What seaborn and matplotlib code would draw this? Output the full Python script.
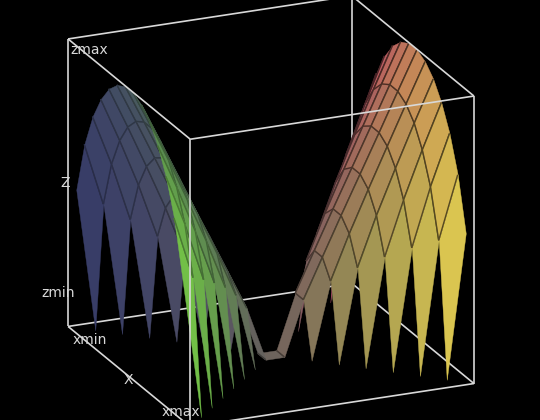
import numpy as np
import matplotlib
matplotlib.use('Agg')
import matplotlib.pyplot as plt
import seaborn as sns
from mpl_toolkits.mplot3d.art3d import Poly3DCollection, Line3DCollection

n = np.nan
x_vals = [0, .067, .133, .2, .267, .333, .4, .467, .533, .6, .667, .733, .8, .867, .933, 1]
y_vals = [0, .067, .133, .2, .267, .333, .4, .467, .533, .6, .667, .733, .8, .867, .933, 1]
# one row per y value, gaps where the surface has no points
z_rows = [
    [0, .499, .680, .800, .884, .943, .980, .998, .998, .980, .943, .884, .800, .680, .499, 0],
    [n, 0, .462, .625, .730, .800, .843, .864, .864, .843, .800, .730, .625, .462, 0, n],
    [n, n, 0, .422, .566, .653, .706, .730, .730, .706, .653, .566, .422, 0, n, n],
    [n, n, n, 0, .377, .499, .566, .596, .596, .566, .499, .377, 0, n, n, n],
    [n, n, n, n, 0, .327, .422, .462, .462, .422, .327, 0, n, n, n, n],
    [n, n, n, n, n, 0, .267, .327, .327, .267, 0, n, n, n, n, n],
    [n, n, n, n, n, n, 0, .189, .189, 0, n, n, n, n, n, n],
    [n, n, n, n, n, n, n, 0, 0, n, n, n, n, n, n, n],
    [n, n, n, n, n, n, n, 0, 0, n, n, n, n, n, n, n],
    [n, n, n, n, n, n, 0, .189, .189, 0, n, n, n, n, n, n],
    [n, n, n, n, n, 0, .267, .327, .327, .267, 0, n, n, n, n, n],
    [n, n, n, n, 0, .327, .422, .462, .462, .422, .327, 0, n, n, n, n],
    [n, n, n, 0, .377, .499, .566, .596, .596, .566, .499, .377, 0, n, n, n],
    [n, n, 0, .422, .566, .653, .706, .730, .730, .706, .653, .566, .422, 0, n, n],
    [n, 0, .462, .625, .730, .800, .843, .864, .864, .843, .800, .730, .625, .462, 0, n],
    [0, .499, .680, .800, .884, .943, .980, .998, .998, .980, .943, .884, .800, .680, .499, 0],
]
ymin_colors = ['#343868', '#3e4566', '#47555f', '#5f9a4c', '#7fd844']
ymax_colors = ['#b84a68', '#bc5562', '#c87f58', '#d4a654', '#e8da4e']
elev, azim = 20.7, -23.3

sns.set_theme(style='dark', rc={'axes.facecolor': 'black', 'figure.facecolor': 'black'})
low_edge = np.array(sns.blend_palette(ymin_colors, 16))
high_edge = np.array(sns.blend_palette(ymax_colors, 16))

fig = plt.figure(figsize=(5.4, 4.2), dpi=100)
ax = fig.add_axes([4.75 / 540, -57.5 / 420, 518.5 / 540, 518.5 / 420], projection='3d', computed_zorder=False)
ax.set_proj_type('ortho')
ax.view_init(elev=elev, azim=azim)
ax.set_box_aspect((1, 1, .995))
ax.set_xlim(0, 1)
ax.set_ylim(0, 1)
ax.set_zlim(0, 1)
ax.set_axis_off()

z = np.array(z_rows)
cells = []
for j in range(15):
    for i in range(15):
        if not np.isnan(z[j:j + 2, i:i + 2]).any():
            cells.append((i, j))

# mesh lines only where two cells meet
edge_count = {}
for i, j in cells:
    corners = [(i, j), (i + 1, j), (i + 1, j + 1), (i, j + 1)]
    for k in range(4):
        key = frozenset((corners[k], corners[(k + 1) % 4]))
        edge_count[key] = edge_count.get(key, 0) + 1

def point(p):
    return (x_vals[p[0]], y_vals[p[1]], z[p[1], p[0]])

def depth(cell):
    pts = np.array([point(p) for p in [(cell[0], cell[1]), (cell[0] + 1, cell[1]), (cell[0] + 1, cell[1] + 1), (cell[0], cell[1] + 1)]])
    c = pts.mean(axis=0)
    e, a = np.radians(elev), np.radians(azim)
    return c[0] * np.cos(e) * np.cos(a) + c[1] * np.cos(e) * np.sin(a) + c[2] * np.sin(e)

cells.sort(key=depth)

for rank, (i, j) in enumerate(cells):
    corners = [(i, j), (i + 1, j), (i + 1, j + 1), (i, j + 1)]
    t = ((j + .5) / 15) ** 1.8
    col = (low_edge[i] * (1 - t) + low_edge[i + 1] * (1 - t) + high_edge[i] * t + high_edge[i + 1] * t) / 2
    poly = Poly3DCollection([[point(p) for p in corners]], facecolors=[col], edgecolors=[col],
                            linewidths=.3, zorder=10 + 2 * rank)
    ax.add_collection3d(poly)
    segs = []
    for k in range(4):
        a, b = corners[k], corners[(k + 1) % 4]
        if edge_count[frozenset((a, b))] == 2:
            segs.append([point(a), point(b)])
    if segs:
        ax.add_collection3d(Line3DCollection(segs, colors=[col * (.7 - .32 * t)], linewidths=1.0, zorder=11 + 2 * rank))

# box edges, the ones at the back go under the surface
back_edges = [((0, 0, 0), (0, 1, 0)), ((0, 1, 0), (1, 1, 0)), ((0, 1, 0), (0, 1, 1))]
front_edges = [((0, 0, 0), (1, 0, 0)), ((1, 0, 0), (1, 1, 0)), ((0, 0, 0), (0, 0, 1)),
               ((1, 0, 0), (1, 0, 1)), ((1, 1, 0), (1, 1, 1)), ((0, 0, 1), (1, 0, 1)),
               ((1, 0, 1), (1, 1, 1)), ((0, 0, 1), (0, 1, 1)), ((0, 1, 1), (1, 1, 1))]
ax.add_collection3d(Line3DCollection(back_edges, colors='#d8d8d8', linewidths=1.2, zorder=1))
ax.add_collection3d(Line3DCollection(front_edges, colors='#d8d8d8', linewidths=1.2, zorder=2000))

labels = [('zmax', 89, 50), ('Z', 65, 183), ('zmin', 58, 293), ('xmin', 90, 340), ('X', 128, 380), ('xmax', 181, 412)]
for txt, px, py in labels:
    fig.text(px / 540, 1 - py / 420, txt, color='#d8d8d8', fontsize=10, ha='center', va='center')

fig.savefig('out.png', dpi=100, facecolor='black')
